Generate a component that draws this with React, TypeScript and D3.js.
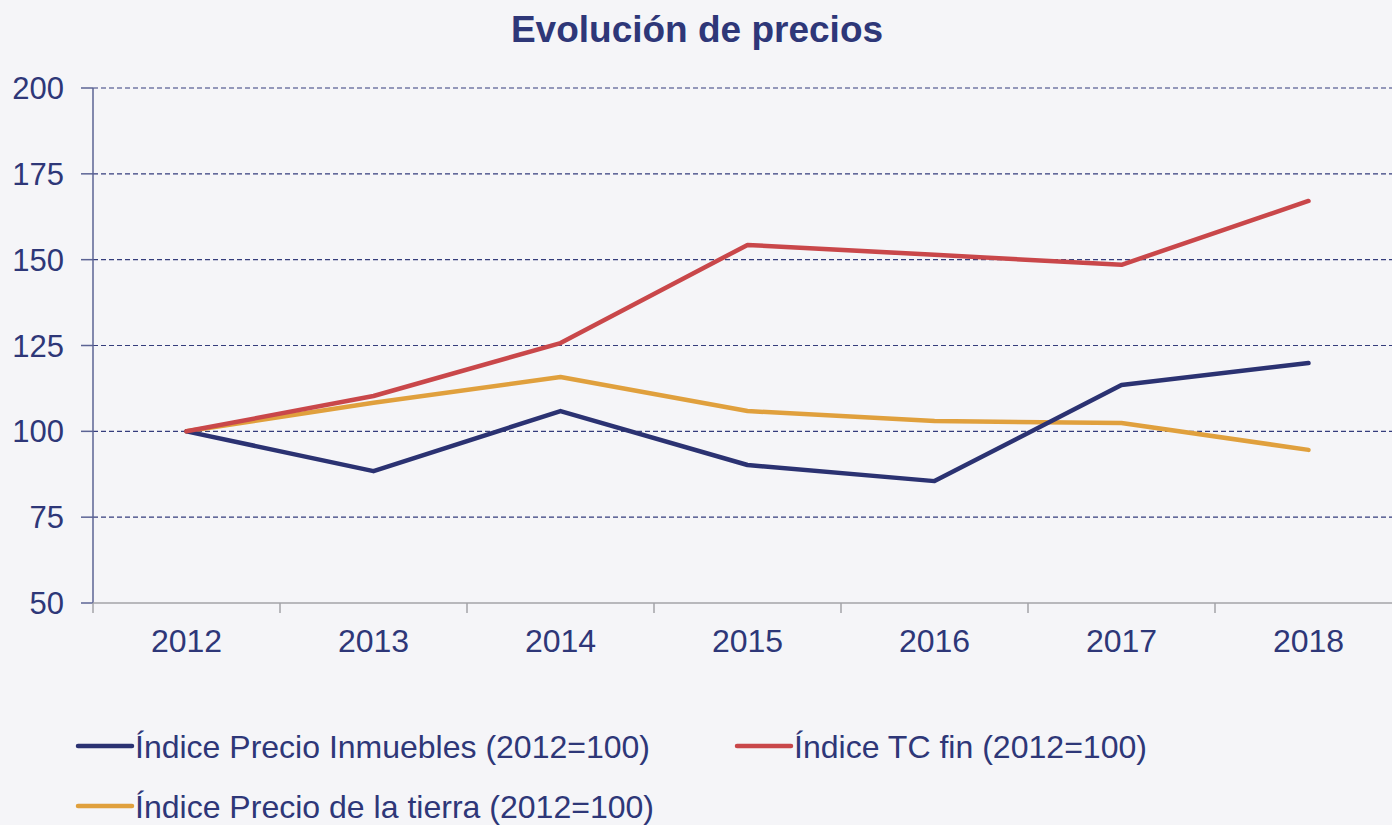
import React from 'react';
import * as d3 from 'd3';

const years = ['2012', '2013', '2014', '2015', '2016', '2017', '2018'];
const inmuebles = [100, 88.4, 105.9, 90.2, 85.5, 113.5, 119.9];
const tcFin = [100, 110.3, 125.7, 154.3, 151.4, 148.5, 167.1];
const tierra = [100, 108.3, 115.8, 105.9, 103.0, 102.4, 94.6];
const yTicks = [50, 75, 100, 125, 150, 175, 200];

const series = [
  { name: 'Índice Precio Inmuebles (2012=100)', values: inmuebles, color: '#2b3272' },
  { name: 'Índice TC fin (2012=100)', values: tcFin, color: '#c9474a' },
  { name: 'Índice Precio de la tierra (2012=100)', values: tierra, color: '#e0a03d' },
];

const W = 1392;
const H = 825;
const TEXT = '#2e3778';
const FONT = '"Liberation Sans", Arial, sans-serif';

export default function App() {
  const x = d3.scaleBand<string>().domain(years).range([93, 1402]).padding(0);
  const y = d3.scaleLinear().domain([50, 200]).range([603, 88]);
  const cx = (yr: string) => (x(yr) as number) + x.bandwidth() / 2;
  const line = d3
    .line<number>()
    .x((_, i) => cx(years[i]))
    .y((d) => y(d));

  const legend = [
    { s: series[0], lx: 78, ly: 746, tl: 515 },
    { s: series[1], lx: 737, ly: 746, tl: 353 },
    { s: series[2], lx: 78, ly: 806, tl: 519 },
  ];

  return (
    <div style={{ position: 'absolute', left: 0, top: 0 }}>
      <svg width={W} height={H} style={{ display: 'block', fontFamily: FONT }}>
        <rect width={W} height={H} fill="#f5f5f8" />
        <text x={697} y={42} textAnchor="middle" fontSize={37} fontWeight="bold" fill={TEXT}>
          Evolución de precios
        </text>

        {/* gridlines */}
        {yTicks.filter((t) => t > 50).map((t) => (
          <line key={t} x1={93} x2={W} y1={y(t)} y2={y(t)} stroke="#353d7c" strokeWidth={1.1} strokeDasharray="5,3" />
        ))}

        {/* y axis */}
        <line x1={93} x2={93} y1={y(200)} y2={y(50)} stroke="#5b6394" strokeWidth={1.5} />
        {yTicks.map((t) => (
          <g key={t}>
            <line x1={81} x2={93} y1={y(t)} y2={y(t)} stroke="#5b6394" strokeWidth={1.5} />
            <text x={64} y={y(t)} dy="0.36em" textAnchor="end" fontSize={31} fill={TEXT}>
              {t}
            </text>
          </g>
        ))}

        {/* x axis */}
        <line x1={93} x2={W} y1={y(50)} y2={y(50)} stroke="#a3a3a8" strokeWidth={1.5} />
        {years.map((yr) => (
          <g key={yr}>
            <line x1={x(yr)} x2={x(yr)} y1={y(50)} y2={y(50) + 10} stroke="#a3a3a8" strokeWidth={1.5} />
            <text x={cx(yr)} y={652} textAnchor="middle" fontSize={32} fill={TEXT}>
              {yr}
            </text>
          </g>
        ))}

        {/* series */}
        {[series[2], series[0], series[1]].map((s) => (
          <path key={s.name} d={line(s.values) || ''} fill="none" stroke={s.color} strokeWidth={4.5} strokeLinecap="round" strokeLinejoin="round" />
        ))}

        {/* legend */}
        {legend.map(({ s, lx, ly, tl }) => (
          <g key={s.name}>
            <line x1={lx} x2={lx + 54} y1={ly} y2={ly} stroke={s.color} strokeWidth={4.5} strokeLinecap="round" />
            <text x={lx + 57} y={ly} dy="0.36em" fontSize={32} fill={TEXT} textLength={tl} lengthAdjust="spacingAndGlyphs">
              {s.name}
            </text>
          </g>
        ))}
      </svg>
    </div>
  );
}
